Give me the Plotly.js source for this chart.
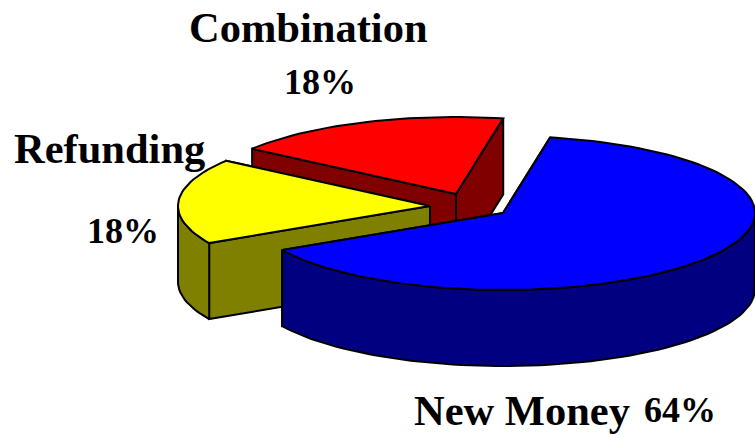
<!DOCTYPE html>
<html><head><meta charset="utf-8">
<script src="https://cdn.plot.ly/plotly-3.0.1.min.js"></script>
<style>html,body{margin:0;padding:0;background:#fff}#c{width:755px;height:435px}</style>
</head><body><div id="c"></div>
<script>
// Data, in drawing order (back to front)
const categories = ['Combination', 'Refunding', 'New Money'];
const shares = [18, 18, 64];
const topColors = ['#ff0000', '#ffff00', '#0000ff'];
const sideColors = ['#800000', '#808000', '#000080'];

// Projection of the tilted, exploded pie
const RX = 252, RY = 77, DEPTH = 76, START_DEG = 79.2;
const hubX = [456, 430, 503], hubY = [194, 206, 213];

function rim(i, a0, a1) {
  const n = Math.max(2, Math.ceil(Math.abs(a1 - a0) / 2));
  const xs = [], ys = [];
  for (let k = 0; k <= n; k++) {
    const t = (a0 + (a1 - a0) * k / n) * Math.PI / 180;
    xs.push(hubX[i] + RX * Math.cos(t));
    ys.push(hubY[i] - RY * Math.sin(t));
  }
  return [xs, ys];
}
function face(xs, ys, color) {
  return {type: 'scatter', mode: 'lines', x: xs, y: ys, fill: 'toself', fillcolor: color,
    line: {color: '#000', width: 2}, hoverinfo: 'skip', showlegend: false, cliponaxis: false};
}
const traces = [];
const total = shares.reduce((a, b) => a + b, 0);
let a0 = START_DEG;
categories.forEach((name, i) => {
  const a1 = a0 + shares[i] / total * 360;
  const hx = hubX[i], hy = hubY[i], side = sideColors[i];
  const [rx, ry] = rim(i, a0, a1);
  const last = rx.length - 1;
  // cut faces
  traces.push(face([hx, rx[0], rx[0], hx, hx], [hy, ry[0], ry[0] + DEPTH, hy + DEPTH, hy], side));
  traces.push(face([hx, rx[last], rx[last], hx, hx], [hy, ry[last], ry[last] + DEPTH, hy + DEPTH, hy], side));
  // outer wall: the part of the rim facing the viewer
  const wa = Math.max(a0, 180), wb = Math.min(a1, 360);
  if (wb > wa) {
    const [wx, wy] = rim(i, wa, wb);
    traces.push(face(wx.concat(wx.slice().reverse(), wx[0]),
      wy.concat(wy.slice().reverse().map(v => v + DEPTH), wy[0]), side));
  }
  // top
  traces.push(face([hx].concat(rx, hx), [hy].concat(ry, hy), topColors[i]));
  a0 = a1;
});

function note(text, x, y, size) {
  return {text: '<b>' + text + '</b>', x, y, xref: 'x', yref: 'y', showarrow: false,
    xanchor: 'center', yanchor: 'middle',
    font: {family: '"Liberation Serif", serif', size, color: '#000'}};
}
const annotations = [
  note(categories[0], 308, 27, 42.5), note(shares[0] + '%', 320, 82, 36),
  note(categories[1], 109, 148, 42.5), note(shares[1] + '%', 122.5, 231, 36),
  note(categories[2], 521.5, 410, 42.5), note(shares[2] + '%', 679.5, 410, 36)
];
Plotly.newPlot('c', traces, {
  width: 755, height: 435, margin: {l: 0, r: 0, t: 0, b: 0},
  paper_bgcolor: '#fff', plot_bgcolor: '#fff', showlegend: false,
  xaxis: {range: [0, 755], visible: false, fixedrange: true},
  yaxis: {range: [435, 0], visible: false, fixedrange: true},
  annotations
}, {displayModeBar: false, staticPlot: true});
</script></body></html>
